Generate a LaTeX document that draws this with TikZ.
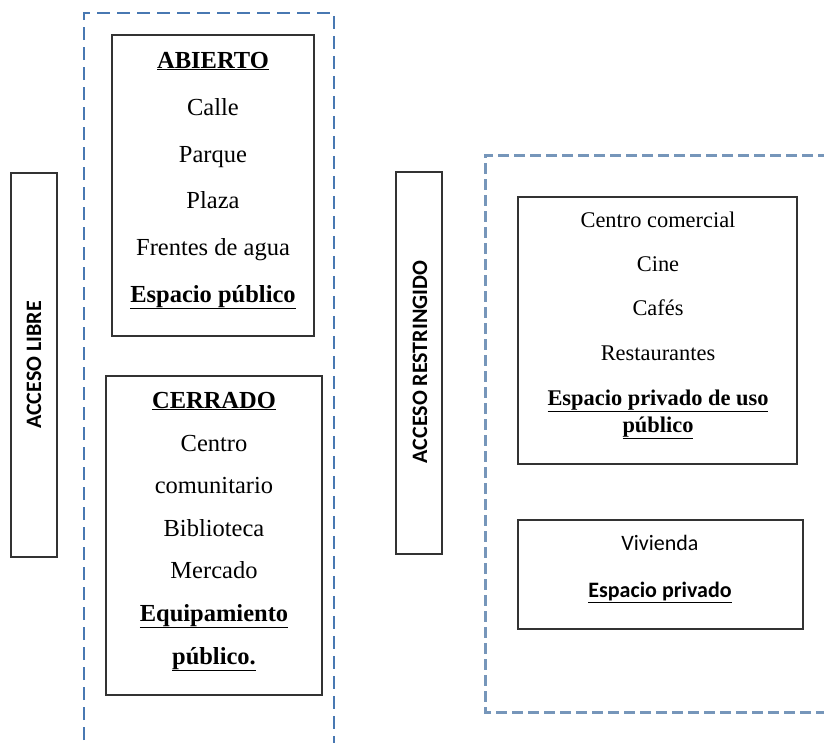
\documentclass[tikz,border=0pt]{standalone}
\usepackage{fontspec}
\setmainfont{Liberation Serif}
\newfontfamily\carl{Carlito}
\definecolor{dashblueA}{RGB}{72,120,178}
\definecolor{dashblueB}{RGB}{118,150,186}
\tikzset{
  box/.style={draw=black!80, line width=1.4pt, inner sep=0pt},
  grpA/.style={draw=dashblueA, line width=2pt, dash pattern=on 13pt off 7pt},
  grpB/.style={draw=dashblueB, line width=3pt, dash pattern=on 11pt off 5pt},
  lt/.style={anchor=base, inner sep=0pt, font=\fontsize{24.5}{28}\selectfont},
  rt/.style={anchor=base, inner sep=0pt, font=\fontsize{22.4}{26}\selectfont},
  st/.style={anchor=base, inner sep=0pt, font=\carl\fontsize{22}{26}\selectfont},
  side/.style={rotate=90, inner sep=0pt, font=\carl\bfseries\fontsize{22}{26}\selectfont}
}
\begin{document}
\begin{tikzpicture}[x=1pt,y=-1pt]
\useasboundingbox (0,0) rectangle (824,742);
% group frames
\draw[grpA] (84,760) -- (84,13) -- (334,13) -- (334,760);
\draw[grpB] (845,155) -- (485,155) -- (485,712) -- (845,712);

% side labels
\node[box, minimum width=46pt, minimum height=384pt] (libreBox) at (34,365) {};
\node[side] (libre) at (34,365) {ACCESO LIBRE};
\node[box, minimum width=46pt, minimum height=382pt] (restBox) at (419,363) {};
\node[side] (rest) at (420,362) {ACCESO RESTRINGIDO};

% ABIERTO
\node[box, minimum width=202pt, minimum height=301pt] (abierto) at (213,185.5) {};
\node[lt] (a0) at (213,68) {\textbf{\underline{ABIERTO}}};
\node[lt] (a1) at (213,115) {Calle};
\node[lt] (a2) at (213,162) {Parque};
\node[lt] (a3) at (213,208) {Plaza};
\node[lt] (a4) at (213,255) {Frentes de agua};
\node[lt] (a5) at (213,302) {\textbf{\underline{Espacio público}}};

% CERRADO
\node[box, minimum width=216pt, minimum height=319pt] (cerrado) at (214,535.5) {};
\node[lt] (c0) at (214,408) {\textbf{\underline{CERRADO}}};
\node[lt] (c1) at (214,451) {Centro};
\node[lt] (c2) at (214,493) {comunitario};
\node[lt] (c3) at (214,536) {Biblioteca};
\node[lt] (c4) at (214,578) {Mercado};
\node[lt] (c5) at (214,621) {\textbf{\underline{Equipamiento}}};
\node[lt] (c6) at (214,664) {\textbf{\underline{público.}}};

% privado de uso publico
\node[box, minimum width=279pt, minimum height=267pt] (comercial) at (657.5,330.5) {};
\node[rt] (p1) at (658,227) {Centro comercial};
\node[rt] (p2) at (658,271) {Cine};
\node[rt] (p3) at (658,315) {Cafés};
\node[rt] (p4) at (658,360) {Restaurantes};
\node[rt] (p5) at (658,405) {\textbf{\underline{Espacio privado de uso}}};
\node[rt] (p6) at (658,432) {\textbf{\underline{público}}};

% vivienda
\node[box, minimum width=285pt, minimum height=109pt] (vivienda) at (660.5,574.5) {};
\node[st] (v1) at (660,550) {Vivienda};
\node[st] (v2) at (660,597) {\textbf{\underline{Espacio privado}}};
\end{tikzpicture}
\end{document}
